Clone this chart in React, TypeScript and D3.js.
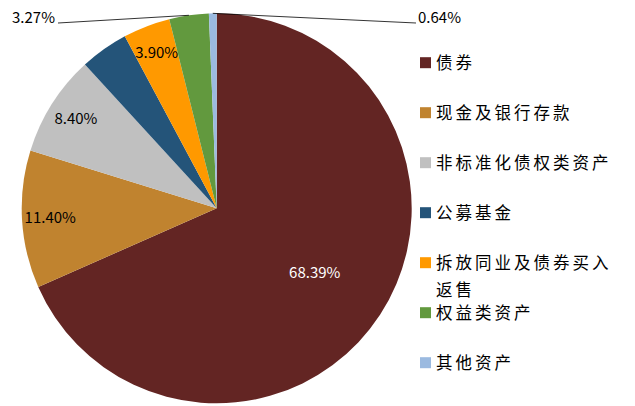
import React, { useRef, useEffect } from "react";
import * as d3 from "d3";

const categories = [
  "债券",
  "现金及银行存款",
  "非标准化债权类资产",
  "公募基金",
  "拆放同业及债券买入返售",
  "权益类资产",
  "其他资产",
];
const shares = [68.39, 11.4, 8.4, 4.0, 3.9, 3.27, 0.64];
const valueLabels = ["68.39%", "11.40%", "8.40%", "", "3.90%", "3.27%", "0.64%"];
// which labels sit outside the pie with a leader line
const outsideLabels = [false, false, false, false, false, true, true];
const colors = [
  "#632523",
  "#C0832F",
  "#C0C0C0",
  "#245479",
  "#FF9900",
  "#62993E",
  "#9BBAE0",
];
const legendLines = [
  ["债券"],
  ["现金及银行存款"],
  ["非标准化债权类资产"],
  ["公募基金"],
  ["拆放同业及债券买入", "返售"],
  ["权益类资产"],
  ["其他资产"],
];

const WIDTH = 635;
const HEIGHT = 406;
const FONT = "'Noto Sans CJK SC', 'Noto Sans', sans-serif";

interface Slice {
  label: string;
  value: number;
  index: number;
}

const PieChart: React.FC = () => {
  const svgRef = useRef<SVGSVGElement>(null);

  useEffect(() => {
    if (!svgRef.current) return;
    const svg = d3.select(svgRef.current);
    svg.selectAll("*").remove();

    const cx = 216.7;
    const cy = 208.3;
    const radius = 195;

    const data: Slice[] = categories.map((label, i) => ({
      label,
      value: shares[i],
      index: i,
    }));

    const pie = d3
      .pie<Slice>()
      .value((d) => d.value)
      .sort(null);

    const arc = d3.arc<d3.PieArcDatum<Slice>>().innerRadius(0).outerRadius(radius);

    const g = svg.append("g").attr("transform", `translate(${cx}, ${cy})`);
    const arcs = pie(data);

    g.selectAll("path.slice")
      .data(arcs)
      .enter()
      .append("path")
      .attr("class", "slice")
      .attr("d", arc)
      .attr("fill", (d) => colors[d.data.index]);

    // inside labels
    const maxVal = d3.max(shares) as number;
    arcs.forEach((d) => {
      const i = d.data.index;
      const text = valueLabels[i];
      if (!text || outsideLabels[i]) return;
      const r = d.data.value === maxVal ? radius * 0.6 : radius * 0.855;
      const mid = (d.startAngle + d.endAngle) / 2;
      g.append("text")
        .attr("x", r * Math.sin(mid))
        .attr("y", -r * Math.cos(mid))
        .attr("dy", "0.36em")
        .attr("text-anchor", "middle")
        .style("font-family", FONT)
        .style("font-size", "15px")
        .style("fill", d.data.value === maxVal ? "#FFFFFF" : "#000000")
        .text(text);
    });

    // outside labels with leader lines
    const outsideTargets: Record<number, { x: number; y: number; anchor: string }> = {
      5: { x: 58, y: 23, anchor: "end" },
      6: { x: 416, y: 23, anchor: "start" },
    };
    arcs.forEach((d) => {
      const i = d.data.index;
      if (!outsideLabels[i]) return;
      const mid = (d.startAngle + d.endAngle) / 2;
      const sx = cx + radius * Math.sin(mid);
      const sy = cy - radius * Math.cos(mid);
      const t = outsideTargets[i];
      svg
        .append("line")
        .attr("x1", sx)
        .attr("y1", sy)
        .attr("x2", t.x)
        .attr("y2", t.y)
        .attr("stroke", "#000000")
        .attr("stroke-width", 0.8);
      svg
        .append("text")
        .attr("x", t.anchor === "end" ? t.x - 3 : t.x + 2)
        .attr("y", t.y - 5)
        .attr("dy", "0.36em")
        .attr("text-anchor", t.anchor)
        .style("font-family", FONT)
        .style("font-size", "15px")
        .style("fill", "#000000")
        .text(valueLabels[i]);
    });

    // legend
    const legend = svg.append("g").attr("transform", "translate(420, 62.7)");
    const rowY = d3
      .scalePoint<number>()
      .domain(d3.range(categories.length))
      .range([0, 300]);

    legendLines.forEach((lines, i) => {
      const y = rowY(i) as number;
      legend
        .append("rect")
        .attr("x", 0)
        .attr("y", y - 5.5)
        .attr("width", 11)
        .attr("height", 11)
        .attr("fill", colors[i]);
      lines.forEach((line, j) => {
        legend
          .append("text")
          .attr("x", 16)
          .attr("y", y + j * 27.5)
          .attr("dy", "0.36em")
          .style("font-family", FONT)
          .style("font-size", "16.5px")
          .style("letter-spacing", "3px")
          .style("fill", "#000000")
          .text(line);
      });
    });
  }, []);

  return (
    <svg
      ref={svgRef}
      width={WIDTH}
      height={HEIGHT}
      style={{ position: "absolute", left: 0, top: 0, background: "#FFFFFF" }}
    />
  );
};

export default function App() {
  return <PieChart />;
}
